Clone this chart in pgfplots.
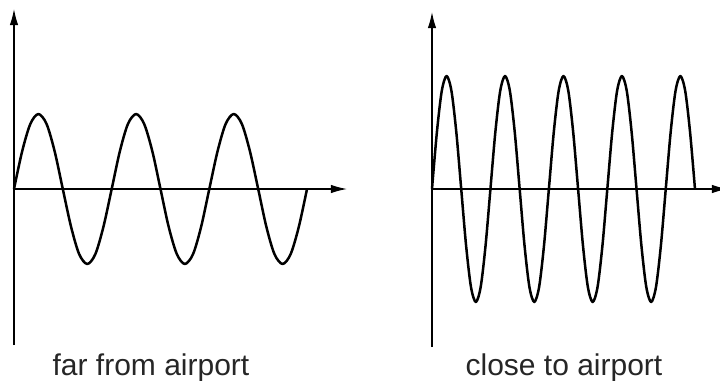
\documentclass[border=0pt]{standalone}
\usepackage{pgfplots}
\pgfplotsset{compat=1.18}
\usepackage{fontspec}
\setmainfont{Liberation Sans}
\usetikzlibrary{arrows.meta}

\pgfplotsset{
  wave axis/.style={
    axis lines=middle,
    x=0.5pt, y=0.5pt,
    enlargelimits=false,
    ticks=none,
    clip=false,
    anchor=origin,
    axis line style={-{Latex[length=8pt,width=4.2pt]}, line width=0.6pt, black},
  },
  wave/.style={black, line width=1.25pt, smooth, no markers, line join=round},
}

\begin{document}
\begin{tikzpicture}
\useasboundingbox (0,0) rectangle (360pt,-190.5pt);

% far from airport: low frequency, small amplitude
\begin{axis}[wave axis, at={(7pt,-94.5pt)}, xmin=0, xmax=333, ymin=-156, ymax=180]
\addplot[wave] coordinates {
(0,0) (8.1,37.5) (16.3,65) (24.4,75) (32.6,65) (40.7,37.5) (48.8,0) (57.0,-37.5) (65.1,-65) (73.3,-75) (81.4,-65) (89.5,-37.5)
(97.7,0) (105.8,37.5) (113.9,65) (122.1,75) (130.2,65) (138.4,37.5) (146.5,0) (154.6,-37.5) (162.8,-65) (170.9,-75) (179.1,-65) (187.2,-37.5)
(195.3,0) (203.5,37.5) (211.6,65) (219.8,75) (227.9,65) (236.0,37.5) (244.2,0) (252.3,-37.5) (260.4,-65) (268.6,-75) (276.7,-65) (284.9,-37.5) (293.0,0)
};
\end{axis}

% close to airport: higher frequency, larger amplitude
\begin{axis}[wave axis, at={(216pt,-94.5pt)}, xmin=0, xmax=296, ymin=-158, ymax=177]
\addplot[wave] coordinates {
(0,0) (4.87,56.5) (9.74,97.9) (14.61,113) (19.48,97.9) (24.35,56.5) (29.22,0) (34.09,-56.5) (38.96,-97.9) (43.83,-113) (48.70,-97.9) (53.57,-56.5)
(58.44,0) (63.31,56.5) (68.18,97.9) (73.05,113) (77.92,97.9) (82.79,56.5) (87.66,0) (92.53,-56.5) (97.40,-97.9) (102.27,-113) (107.14,-97.9) (112.01,-56.5)
(116.88,0) (121.75,56.5) (126.62,97.9) (131.49,113) (136.36,97.9) (141.23,56.5) (146.10,0) (150.97,-56.5) (155.84,-97.9) (160.71,-113) (165.58,-97.9) (170.45,-56.5)
(175.32,0) (180.19,56.5) (185.06,97.9) (189.93,113) (194.80,97.9) (199.67,56.5) (204.54,0) (209.41,-56.5) (214.28,-97.9) (219.15,-113) (224.02,-97.9) (228.89,-56.5)
(233.76,0) (238.63,56.5) (243.50,97.9) (248.37,113) (253.24,97.9) (258.11,56.5) (262.98,0)
};
\end{axis}

\node[anchor=base, font=\fontsize{15}{18}\selectfont, text=black!85] at (75.5pt,-187.5pt) {far from airport};
\node[anchor=base, font=\fontsize{15}{18}\selectfont, text=black!85] at (282pt,-187.5pt) {close to airport};
\end{tikzpicture}
\end{document}
